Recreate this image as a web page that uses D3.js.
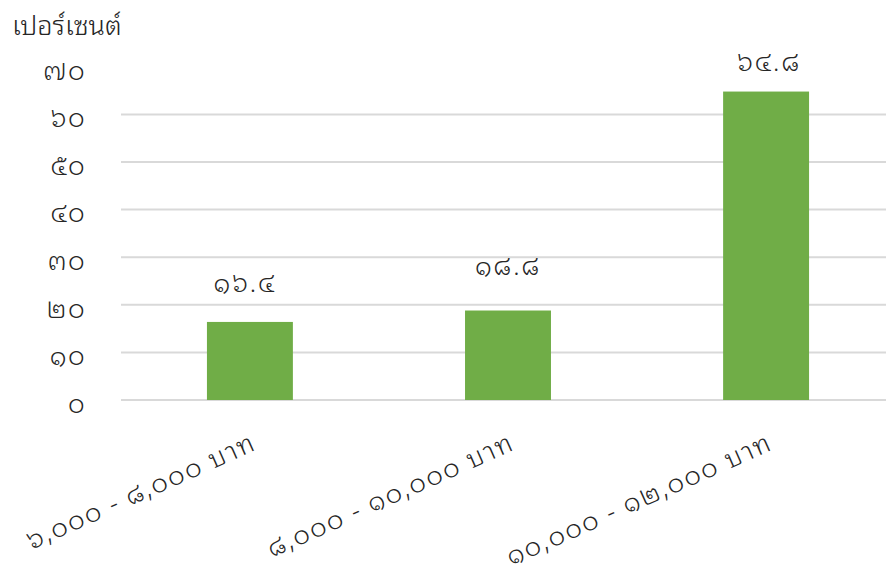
<!DOCTYPE html>
<html><head><meta charset="utf-8">
<script src="https://cdn.jsdelivr.net/npm/d3@7"></script>
<style>body{margin:0;background:#fff}svg{display:block}text{font-family:"Noto Sans Thai Looped","Loma","Garuda","Norasi","Noto Serif Thai","Noto Sans Thai","Tahoma","Noto Sans",sans-serif;fill:#262626;font-weight:300}</style>
</head><body><svg id="c" width="886" height="575"></svg>
<script>
const categories = ["๖,๐๐๐ - ๘,๐๐๐ บาท", "๘,๐๐๐ - ๑๐,๐๐๐ บาท", "๑๐,๐๐๐ - ๑๒,๐๐๐ บาท"];
const values = [16.4, 18.8, 64.8];
const yTicks = [0, 10, 20, 30, 40, 50, 60, 70];
const yTitle = "เปอร์เซนต์";

const thaiDigits = "๐๑๒๓๔๕๖๗๘๙";
const toThai = s => String(s).replace(/[0-9]/g, d => thaiDigits[+d]);

const svg = d3.select("#c");
const x = d3.scaleBand().domain(categories).range([121, 895]).paddingInner(0.667).paddingOuter(0.333);
const y = d3.scaleLinear().domain([0, 70]).range([400, 66.8]);

// gridlines
svg.append("g").selectAll("line").data(yTicks.filter(t => t < 70)).join("line")
  .attr("x1", 121).attr("x2", 886)
  .attr("y1", d => y(d)).attr("y2", d => y(d))
  .attr("stroke", "#d9d9d9").attr("stroke-width", 2);

// y axis labels
const yAxis = d3.axisLeft(y).tickValues(yTicks).tickSize(0).tickPadding(0).tickFormat(d => toThai(d));
const ga = svg.append("g").attr("transform", "translate(86,4)").call(yAxis);
ga.select(".domain").remove();
ga.selectAll("text").attr("font-size", 26).attr("letter-spacing", 1.5).style("font-family", null).attr("fill", "#262626");

// bars
svg.append("g").selectAll("rect").data(values).join("rect")
  .attr("x", (d, i) => x(categories[i]))
  .attr("width", x.bandwidth())
  .attr("y", d => y(d))
  .attr("height", d => y(0) - y(d))
  .attr("fill", "#70ad47");

// data labels (manually nudged in the original)
const lift = [39, 45, 30], shift = [-5, 0, 3];
svg.append("g").selectAll("text").data(values).join("text")
  .attr("x", (d, i) => x(categories[i]) + x.bandwidth() / 2 + shift[i])
  .attr("y", (d, i) => y(d) - lift[i])
  .attr("dy", "0.35em")
  .attr("text-anchor", "middle").attr("font-size", 26).attr("letter-spacing", 2)
  .text(d => toThai(d.toFixed(1)));

// x labels
svg.append("g").selectAll("text").data(categories).join("text")
  .attr("transform", d => `translate(${x(d) + x.bandwidth() / 2 + 8},${449}) rotate(-24)`)
  .attr("text-anchor", "end").attr("font-size", 26).attr("letter-spacing", 1.8)
  .text(d => d);

// y title
svg.append("text").attr("x", 12).attr("y", 35).attr("font-size", 27).text(yTitle);
</script></body></html>
